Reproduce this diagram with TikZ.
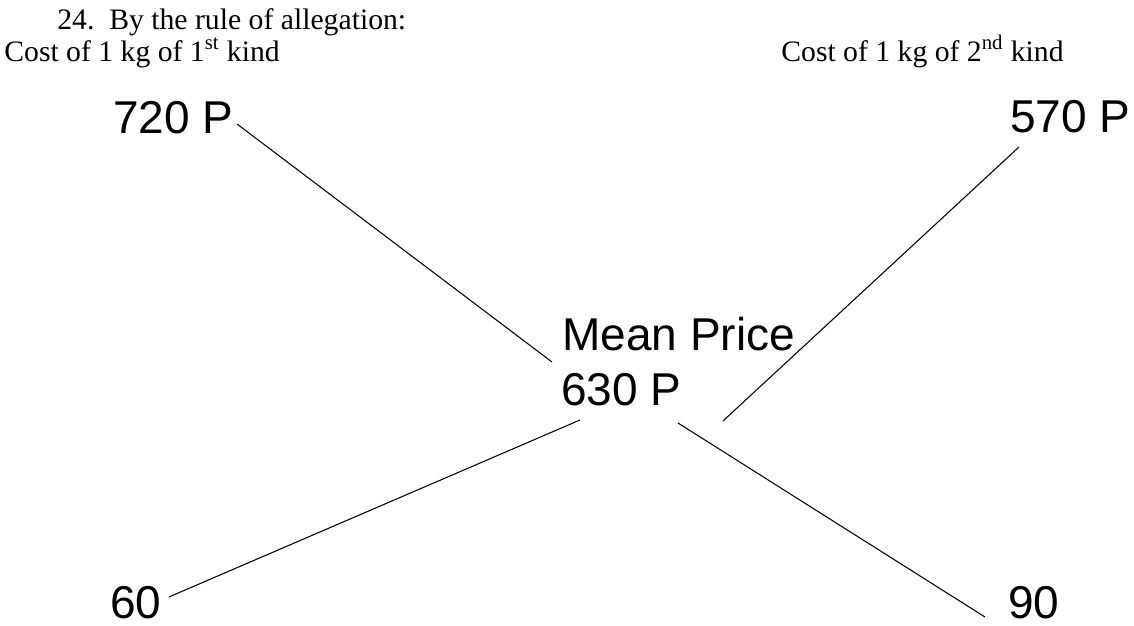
\documentclass[tikz,border=0pt]{standalone}
\usepackage{fontspec}
\setmainfont{Liberation Serif}
\newfontfamily\pricefont{Liberation Sans}
\usepackage{tikz}

\begin{document}
\begin{tikzpicture}[
    x=0.02cm, y=-0.02cm,
    note/.style={anchor=base west, inner sep=0pt, font=\fontsize{16.9}{20}\selectfont},
    price/.style={anchor=base west, inner sep=0pt, font=\pricefont\fontsize{26.2}{30}\selectfont},
    leg/.style={line width=0.6pt}
]
    \useasboundingbox (0,0) rectangle (1134,626);

    % Heading
    \node[note] (title) at (57,29) {24.\ \ By the rule of allegation:};
    \node[note] (kindA) at (4,61) {Cost of 1 kg of 1\textsuperscript{st} kind};
    \node[note] (kindB) at (781,61) {Cost of 1 kg of 2\textsuperscript{nd} kind};

    % Prices
    \node[price] (p720) at (113,133) {720 P};
    \node[price] (p570) at (1010,132) {570 P};
    \node[price] (mean) at (562,350) {Mean Price};
    \node[price] (p630) at (561,405) {630 P};

    % Differences
    \node[price] (p60) at (110,618) {60};
    \node[price] (p90) at (1008,618) {90};

    % Ends of the cross near the mean
    \coordinate (mA) at (552,362);
    \coordinate (mB) at (723,421);
    \coordinate (mC) at (580,420);
    \coordinate (mD) at (678,423);

    % Cross
    \draw[leg] ([shift={(3,-9)}]p720.base east) -- (mA);
    \draw[leg] ([shift={(9,15)}]p570.base west) -- (mB);
    \draw[leg] (mC) -- ([shift={(7,-21)}]p60.base east);
    \draw[leg] (mD) -- ([shift={(-23,-1)}]p90.base west);
\end{tikzpicture}
\end{document}
